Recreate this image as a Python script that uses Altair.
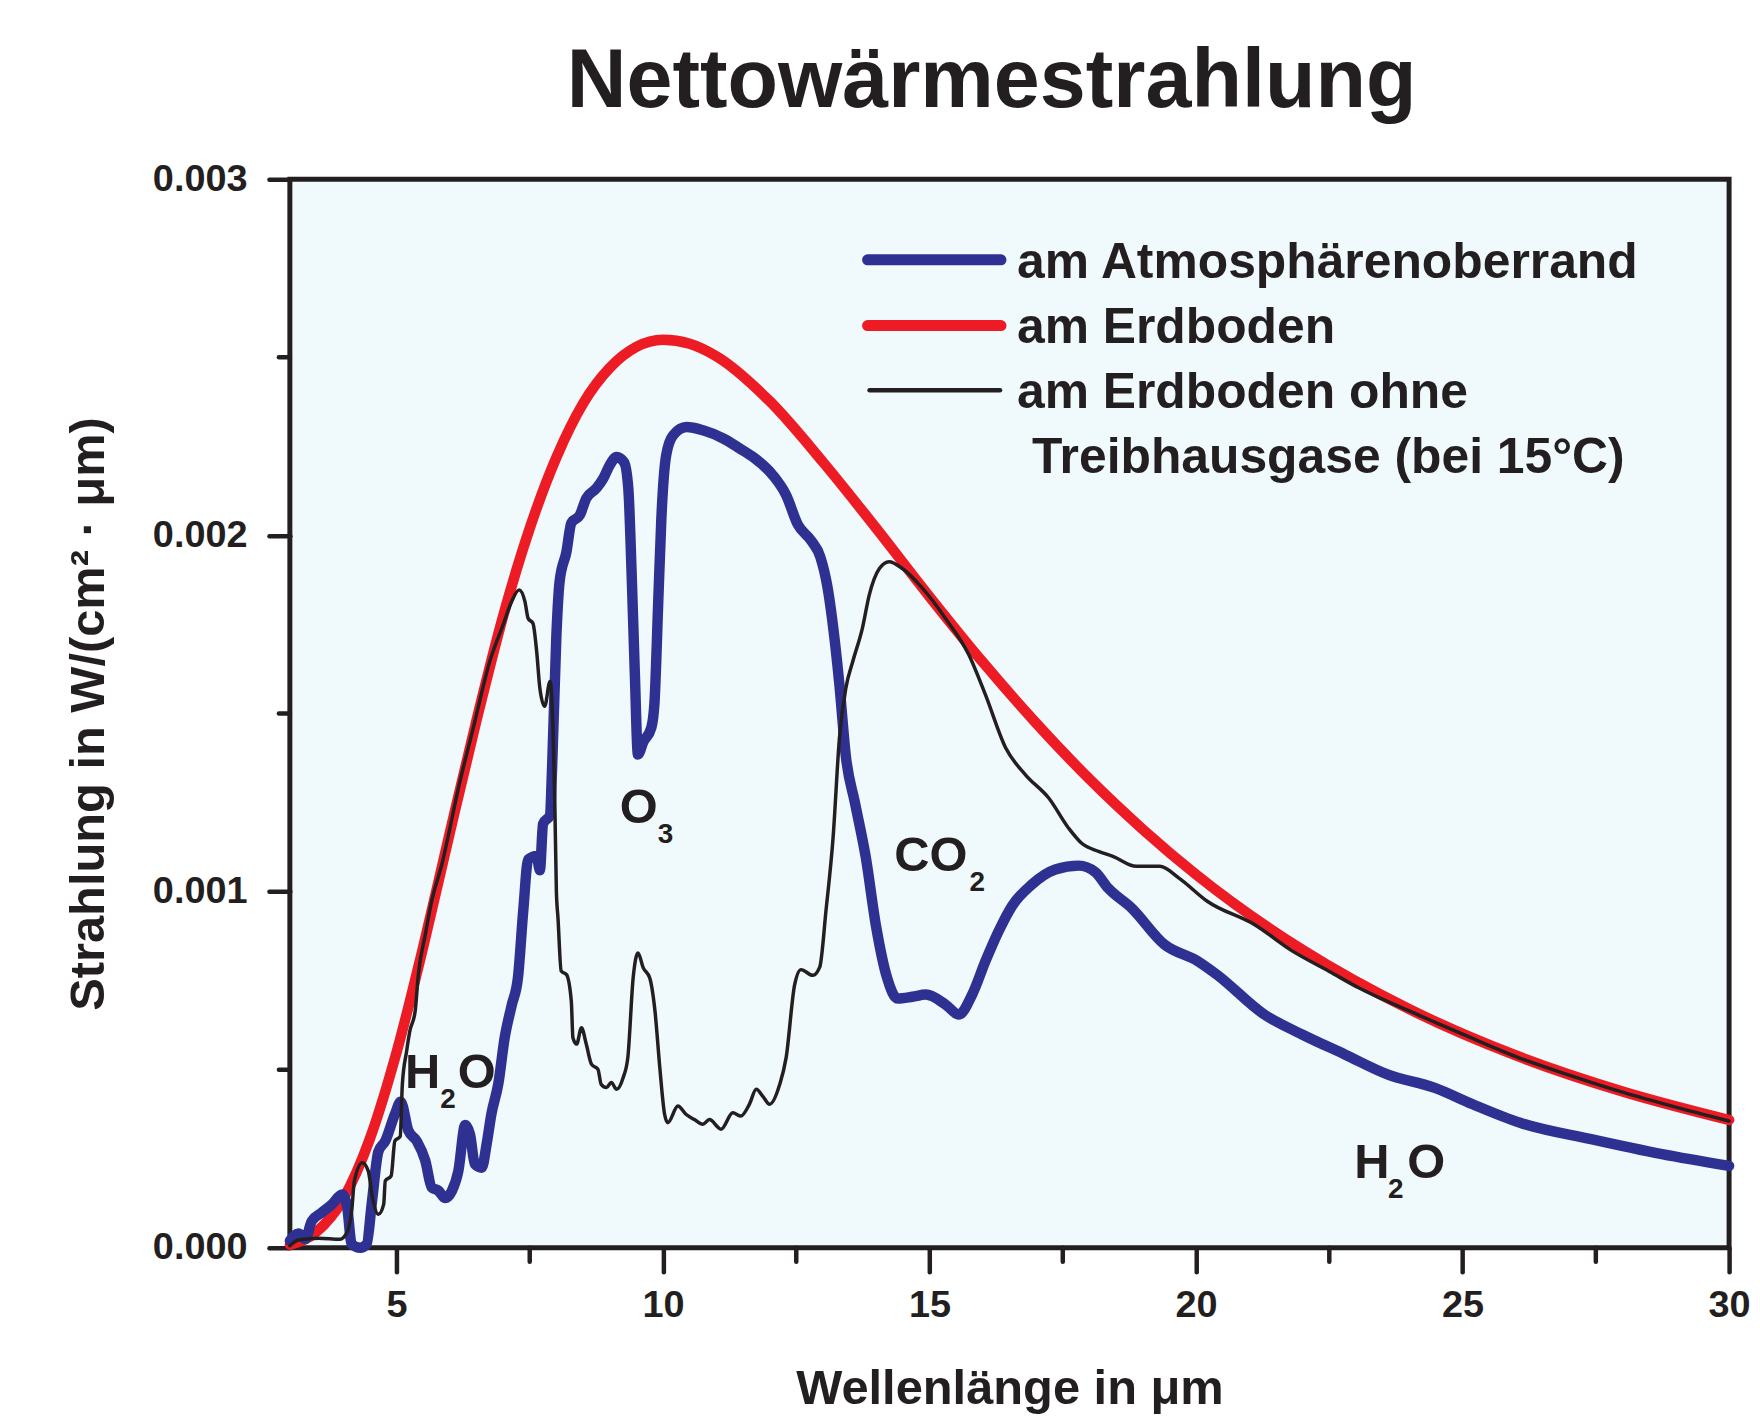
import altair as alt
import pandas as pd

FONT = "Liberation Sans, Arial, Helvetica, sans-serif"
INK = "#231F20"
BLUE = "#2E3192"
RED = "#ED1C24"
BG = "#F0F9FC"

# ---- data (radiance in 10^-3 W/(cm²·µm)) ----
series_names = ["am Atmosphärenoberrand", "am Erdboden",
                "am Erdboden ohne Treibhausgase (bei 15°C)"]
legend_lines = ["am Atmosphärenoberrand", "am Erdboden", "am Erdboden ohne",
                "Treibhausgase (bei 15°C)"]

wl_ground = [3, 3.5, 4, 4.5, 5, 5.5, 6, 6.5, 7, 7.5, 8, 8.5, 9, 9.5, 10, 10.5, 11,
             12, 13, 14, 15, 16, 17, 18, 19, 20, 22, 24, 26, 28, 30]
rad_ground = [0.009, 0.045, 0.137, 0.306, 0.548, 0.844, 1.165, 1.480, 1.773, 2.020,
              2.219, 2.370, 2.470, 2.529, 2.549, 2.538, 2.503, 2.377, 2.206, 2.020,
              1.828, 1.644, 1.473, 1.316, 1.175, 1.048, 0.836, 0.670, 0.540, 0.439,
              0.359]

wl_toa = [3.00, 3.16, 3.29, 3.41, 3.60, 3.79, 3.98, 4.07, 4.16, 4.32, 4.44, 4.54,
          4.66, 4.79, 4.97, 5.08, 5.22, 5.38, 5.54, 5.66, 5.79, 5.91, 6.04, 6.16,
          6.29, 6.38, 6.47, 6.60, 6.69, 6.78, 6.91, 7.03, 7.16, 7.28, 7.38, 7.47,
          7.63, 7.69, 7.75, 7.88, 7.92, 8.00, 8.06, 8.19, 8.28, 8.44, 8.56, 8.75,
          8.88, 9.00, 9.13, 9.27, 9.35, 9.41, 9.47, 9.53, 9.63, 9.78, 9.84, 9.91,
          9.97, 10.06, 10.19, 10.44, 10.75, 11.13, 11.44, 11.69, 12.06, 12.31,
          12.53, 12.78, 12.95, 13.09, 13.21, 13.31, 13.43, 13.60, 13.80, 14.00,
          14.20, 14.40, 14.68, 14.93, 15.30, 15.55, 15.80, 16.05, 16.30, 16.55,
          16.92, 17.36, 17.80, 18.11, 18.35, 18.79, 19.41, 20.03, 20.39, 21.28,
          21.99, 22.79, 23.59, 24.48, 25.19, 26.08, 27.41, 28.74, 30.00]
rad_toa = [0.02, 0.04, 0.025, 0.075, 0.099, 0.122, 0.150, 0.12, 0.01, 0.0, 0.01,
           0.13, 0.27, 0.30, 0.375, 0.41, 0.33, 0.30, 0.245, 0.17, 0.16, 0.14, 0.16,
           0.215, 0.345, 0.318, 0.235, 0.225, 0.29, 0.375, 0.46, 0.59, 0.68, 0.76,
           0.95, 1.09, 1.10, 1.06, 1.19, 1.215, 1.35, 1.72, 1.87, 1.955, 2.035,
           2.057, 2.104, 2.132, 2.160, 2.197, 2.220, 2.205, 2.13, 1.90, 1.62, 1.385,
           1.42, 1.46, 1.53, 1.81, 2.05, 2.225, 2.281, 2.304, 2.295, 2.272, 2.244,
           2.220, 2.169, 2.113, 2.030, 1.985, 1.940, 1.851, 1.720, 1.580, 1.38,
           1.25, 1.10, 0.90, 0.76, 0.70, 0.705, 0.711, 0.683, 0.655, 0.711, 0.805,
           0.89, 0.96, 1.02, 1.062, 1.073, 1.055, 1.010, 0.954, 0.851, 0.805, 0.767,
           0.655, 0.599, 0.543, 0.487, 0.449, 0.403, 0.351, 0.305, 0.263, 0.230]

wl_nogh = [3.00, 3.16, 3.54, 3.94, 4.07, 4.16, 4.21, 4.36, 4.47, 4.55, 4.66, 4.76,
           4.79, 4.90, 4.97, 5.07, 5.11, 5.19, 5.25, 5.35, 5.41, 5.54, 5.66, 5.85,
           6.19, 6.44, 6.75, 7.00, 7.16, 7.30, 7.41, 7.47, 7.56, 7.63, 7.69, 7.78,
           7.88, 7.94, 7.97, 8.00, 8.03, 8.09, 8.19, 8.28, 8.31, 8.38, 8.47, 8.56,
           8.66, 8.78, 8.84, 8.94, 9.03, 9.13, 9.25, 9.34, 9.44, 9.53, 9.63, 9.75,
           9.85, 9.94, 10.03, 10.09, 10.28, 10.43, 10.59, 10.75, 10.87, 11.09, 11.31,
           11.46, 11.62, 11.75, 11.87, 12.00, 12.19, 12.31, 12.47, 12.59, 12.81,
           12.94, 13.06, 13.19, 13.31, 13.43, 13.56, 13.74, 13.87, 14.06, 14.24,
           14.49, 14.87, 15.30, 15.74, 16.05, 16.43, 16.80, 17.24, 17.61, 17.86,
           18.17, 18.44, 18.88, 19.32, 19.68, 20.21, 21.10, 21.81, 22.50, 23.05,
           24.00, 25.00, 26.00, 27.00, 28.00, 29.00, 30.00]
rad_nogh = [0.006, 0.022, 0.027, 0.024, 0.043, 0.104, 0.188, 0.239, 0.216, 0.141,
            0.094, 0.122, 0.188, 0.202, 0.300, 0.313, 0.459, 0.552, 0.608, 0.664,
            0.767, 0.879, 0.973, 1.076, 1.309, 1.459, 1.646, 1.749, 1.814, 1.847,
            1.814, 1.767, 1.753, 1.674, 1.571, 1.520, 1.590, 1.440, 1.253, 1.000,
            0.926, 0.777, 0.767, 0.692, 0.590, 0.572, 0.618, 0.572, 0.515, 0.501,
            0.459, 0.450, 0.464, 0.445, 0.477, 0.534, 0.758, 0.828, 0.786, 0.758,
            0.664, 0.506, 0.375, 0.351, 0.398, 0.375, 0.360, 0.347, 0.360, 0.333,
            0.379, 0.370, 0.403, 0.445, 0.426, 0.403, 0.459, 0.534, 0.739, 0.781,
            0.765, 0.788, 0.950, 1.150, 1.431, 1.571, 1.646, 1.739, 1.833, 1.907,
            1.926, 1.907, 1.851, 1.767, 1.664, 1.552, 1.403, 1.328, 1.262, 1.178,
            1.135, 1.113, 1.099, 1.071, 1.071, 1.038, 0.973, 0.907, 0.833, 0.776,
            0.730, 0.665, 0.600, 0.537, 0.485, 0.437, 0.395, 0.356]

# absorber labels: main letters and their subscripts (left edge, baseline)
ann_main_text = ["H", "O", "O", "CO", "H", "O"]
ann_main_wl = [5.16, 6.15, 9.19, 14.34, 22.97, 23.96]
ann_main_val = [0.449, 0.449, 1.192, 1.057, 0.197, 0.197]
ann_sub_text = ["2", "3", "2", "2"]
ann_sub_wl = [5.82, 9.90, 15.75, 23.60]
ann_sub_val = [0.393, 1.136, 1.001, 0.141]

x_major = [5, 10, 15, 20, 25, 30]
x_minor = [7.5, 12.5, 17.5, 22.5, 27.5]
y_major = [0.0, 0.001, 0.002, 0.003]
y_minor = [0.0005, 0.0015, 0.0025]


def table(wl, vals, name):
    return pd.DataFrame({"wl": wl, "val": [v * 1e-3 for v in vals], "series": name})


toa = table(wl_toa, rad_toa, series_names[0])
ground = table(wl_ground, rad_ground, series_names[1])
nogh = table(wl_nogh, rad_nogh, series_names[2])
ann_main = pd.DataFrame({"wl": ann_main_wl, "val": [v * 1e-3 for v in ann_main_val],
                         "label": ann_main_text})
ann_sub = pd.DataFrame({"wl": ann_sub_wl, "val": [v * 1e-3 for v in ann_sub_val],
                        "label": ann_sub_text})

W, H = 1445, 1073

x_scale = alt.Scale(domain=[3, 30], nice=False, zero=False)
y_scale = alt.Scale(domain=[0, 0.003], nice=False)

x_axis = alt.Axis(values=x_major, format="d", tickSize=24, labelPadding=15,
                  titlePadding=40)
y_axis = alt.Axis(values=y_major, format=".3f", tickSize=21, labelPadding=22,
                  titlePadding=39)

X = alt.X("wl:Q", scale=x_scale, axis=x_axis, title="Wellenlänge in μm")
Y = alt.Y("val:Q", scale=y_scale, axis=y_axis, title="Strahlung in W/(cm² · μm)")


def curve(df, color, width):
    return alt.Chart(df).mark_line(
        color=color, strokeWidth=width, interpolate="monotone",
        strokeCap="round", strokeJoin="round"
    ).encode(x=X, y=Y)


red_line = curve(ground, RED, 10.5)
blue_line = curve(toa, BLUE, 10.5)
black_line = curve(nogh, INK, 3.5)

tick_style = dict(color=INK, strokeWidth=4.5, strokeCap="round")
y_minor_ticks = alt.Chart(pd.DataFrame({"val": y_minor})).mark_rule(**tick_style).encode(
    y=Y, x=alt.value(-11), x2=alt.value(0))
x_minor_ticks = alt.Chart(pd.DataFrame({"wl": x_minor})).mark_rule(**tick_style).encode(
    x=X, y=alt.value(H), y2=alt.value(H + 14))

ann_main_layer = alt.Chart(ann_main).mark_text(
    font=FONT, fontSize=49, fontWeight="bold", color=INK,
    align="left", baseline="alphabetic"
).encode(x=X, y=Y, text="label:N")
ann_sub_layer = alt.Chart(ann_sub).mark_text(
    font=FONT, fontSize=28, fontWeight="bold", color=INK,
    align="left", baseline="alphabetic"
).encode(x=X, y=Y, text="label:N")

# ---- legend (drawn inside the plot, upper right) ----
legend_layers = []
for name, color, sw, yy, x1, x2 in [
    (series_names[0], BLUE, 11, 81, 580, 714),
    (series_names[1], RED, 11, 147, 580, 714),
    (series_names[2], INK, 4.5, 212, 582, 713),
]:
    legend_layers.append(
        alt.Chart(pd.DataFrame({"series": [name]})).mark_rule(
            color=color, strokeWidth=sw, strokeCap="round"
        ).encode(x=alt.value(x1), x2=alt.value(x2), y=alt.value(yy))
    )
for txt, xx, yy in [
    (legend_lines[0], 730, 99),
    (legend_lines[1], 730, 165),
    (legend_lines[2], 730, 230),
    (legend_lines[3], 745, 295),
]:
    legend_layers.append(
        alt.Chart(pd.DataFrame({"t": [txt]})).mark_text(
            font=FONT, fontSize=50, fontWeight="bold", color=INK,
            align="left", baseline="alphabetic"
        ).encode(x=alt.value(xx), y=alt.value(yy), text="t:N")
    )

chart = alt.layer(
    red_line, blue_line, black_line, y_minor_ticks, x_minor_ticks,
    ann_main_layer, ann_sub_layer, *legend_layers
).properties(
    width=W, height=H,
    title=alt.TitleParams(
        text="Nettowärmestrahlung", font=FONT, fontSize=83, fontWeight="bold",
        color=INK, anchor="middle", frame="group", offset=36, dx=-18
    ),
    padding={"left": 56, "top": 31, "right": 1, "bottom": 0},
    background="white",
).configure_view(
    stroke=INK, strokeWidth=5, fill=BG
).configure_axis(
    domain=False, grid=False, tickColor=INK, tickWidth=4.5, tickCap="round",
    labelFont=FONT, labelFontSize=38, labelFontWeight="bold", labelColor=INK,
    labelFlush=False, labelOverlap=False,
    titleFont=FONT, titleFontSize=49, titleFontWeight="bold", titleColor=INK
)

chart.save("out.html", embed_options={"renderer": "svg", "actions": False})
